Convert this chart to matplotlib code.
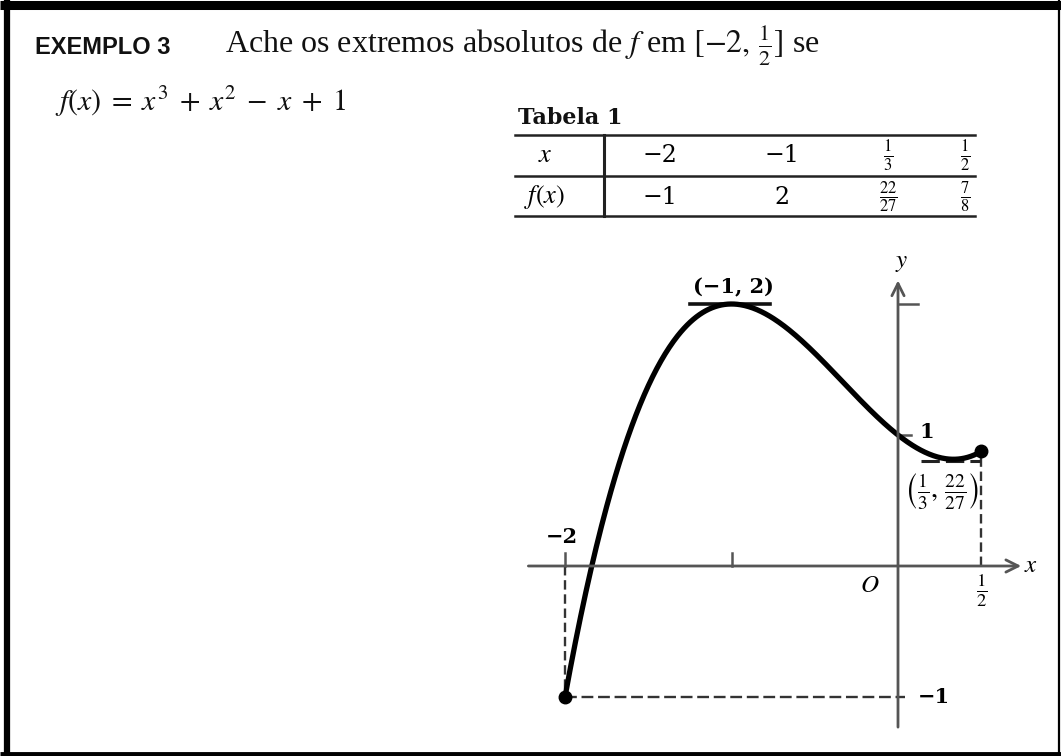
import numpy as np
import matplotlib
matplotlib.use("Agg")
import matplotlib.pyplot as plt

plt.rcParams["mathtext.fontset"] = "stix"
plt.rcParams["font.family"] = ["Liberation Serif", "DejaVu Serif"]

# f(x) = x^3 + x^2 - x + 1 on [-2, 1/2]
coeffs = [1, 1, -1, 1]
interval = [-2.0, 0.5]

# Tabela 1
table_x = [-2, -1, 1 / 3, 1 / 2]
table_fx = [-1, 2, 22 / 27, 7 / 8]
table_x_labels = ["−2", "−1", r"$\frac{1}{3}$", r"$\frac{1}{2}$"]
table_fx_labels = ["−1", "2", r"$\frac{22}{27}$", r"$\frac{7}{8}$"]

W, H = 1061, 756
fig = plt.figure(figsize=(W / 100, H / 100), dpi=100)
fig.patch.set_facecolor("white")

# page layer in pixel units for text and the table
page = fig.add_axes([0, 0, 1, 1])
page.set_xlim(0, W)
page.set_ylim(H, 0)
page.axis("off")

# frame
page.plot([0, W], [4.5, 4.5], color="black", lw=6.5, solid_capstyle="butt")
page.plot([7, 7], [0, H], color="black", lw=4.5, solid_capstyle="butt")
page.plot([0, W], [754, 754], color="black", lw=3.5, solid_capstyle="butt")
page.plot([1059, 1059], [0, H], color="black", lw=1.6, solid_capstyle="butt")

# heading
page.text(35, 48, "EXEMPLO 3", fontsize=17, fontweight="bold",
          family=["Liberation Sans Narrow", "Liberation Sans", "DejaVu Sans"],
          ha="left", va="center", color="#111111")
page.text(225, 45, r"Ache os extremos absolutos de $f$ em $[-2,\,\frac{1}{2}]$ se",
          fontsize=23, ha="left", va="center", color="#111111")
page.text(55, 102, r"$f(x)\;=\;x^3\;+\;x^2\;-\;x\;+\;1$", fontsize=21.5,
          ha="left", va="center", color="#111111")

# table
page.text(518, 118, "Tabela 1", fontsize=16, fontweight="bold",
          family=["DejaVu Serif"], ha="left", va="center", color="#111111")
for yy in (135, 176, 216):
    page.plot([515, 975], [yy, yy], color="#222222", lw=1.8)
page.plot([604, 604], [135, 216], color="#222222", lw=2.2)
page.text(545, 156, r"$x$", fontsize=19, ha="center", va="center")
page.text(545, 197, r"$f(x)$", fontsize=19, ha="center", va="center")
col_x = [660, 782, 888, 965]
for cx, lx, lf in zip(col_x, table_x_labels, table_fx_labels):
    page.text(cx, 156, lx, fontsize=17, ha="center", va="center",
              family=["DejaVu Serif"])
    page.text(cx, 197, lf, fontsize=17, ha="center", va="center",
              family=["DejaVu Serif"])

# graph axes: data coordinates mapped onto the page
x0p, sx = 898.0, 166.5
y0p, sy = 566.0, 131.0
xlim = (-2.3, 0.9)
ylim = (-1.45, 2.6)
left = x0p + xlim[0] * sx
right = x0p + xlim[1] * sx
top = y0p - ylim[1] * sy
bottom = y0p - ylim[0] * sy
ax = fig.add_axes([left / W, (H - bottom) / H, (right - left) / W, (bottom - top) / H])
ax.set_xlim(*xlim)
ax.set_ylim(*ylim)
ax.axis("off")
ax.patch.set_alpha(0)

axis_col = "#555555"
# coordinate axes with open arrowheads
ax.annotate("", xy=(0.74, 0), xytext=(-2.22, 0),
            arrowprops=dict(arrowstyle="->", color=axis_col, lw=2.0,
                            mutation_scale=22, shrinkA=0, shrinkB=0))
ax.annotate("", xy=(0, 2.18), xytext=(0, -1.23),
            arrowprops=dict(arrowstyle="->", color=axis_col, lw=2.0,
                            mutation_scale=22, shrinkA=0, shrinkB=0))
ax.text(0.8, 0.0, r"$x$", fontsize=18, ha="center", va="center")
ax.text(0.02, 2.31, r"$y$", fontsize=18, ha="center", va="center")
ax.text(-0.17, -0.15, r"$O$", fontsize=18, ha="center", va="center")

# ticks
ax.plot([-1, -1], [0, 0.1], color=axis_col, lw=1.8)
ax.plot([-2, -2], [0, 0.1], color=axis_col, lw=1.8)
ax.plot([0, 0.12], [2, 2], color=axis_col, lw=1.8)
ax.plot([0, 0.08], [1, 1], color=axis_col, lw=1.8)
ax.text(0.17, 1.02, "1", fontsize=15, fontweight="bold", ha="center",
        va="center", family=["DejaVu Serif"])
ax.text(-2.02, 0.22, "−2", fontsize=15, fontweight="bold", ha="center",
        va="center", family=["DejaVu Serif"])
ax.text(0.5, -0.19, r"$\frac{1}{2}$", fontsize=19, ha="center", va="center")

# dashed guides
ax.plot([-2, -2], [0, table_fx[0]], color="#333333", lw=1.7, ls=(0, (4, 2)))
ax.plot([-2, 0.04], [table_fx[0], table_fx[0]], color="#333333", lw=1.7, ls=(0, (5, 2)))
ax.text(0.12, -1.0, "−1", fontsize=15, fontweight="bold", ha="left",
        va="center", family=["DejaVu Serif"])
ax.plot([0.5, 0.5], [0, table_fx[3]], color="#333333", lw=1.7, ls=(0, (4, 2)))

# horizontal tangents at the critical points
ax.plot([-1.25, -0.77], [table_fx[1], table_fx[1]], color="#111111", lw=2.6)
ax.text(-0.99, 2.13, "(−1, 2)", fontsize=15, fontweight="bold", ha="center",
        va="center", family=["DejaVu Serif"])
ax.plot([0.14, 0.49], [table_fx[2] - 0.01, table_fx[2] - 0.01], color="#222222",
        lw=2.2, ls=(0, (6, 2)))
ax.text(0.26, 0.57, r"$\left(\frac{1}{3},\,\frac{22}{27}\right)$", fontsize=20,
        ha="center", va="center")

# the curve and its endpoints
xs = np.linspace(interval[0], interval[1], 400)
ax.plot(xs, np.polyval(coeffs, xs), color="black", lw=3.8, solid_capstyle="round")
ax.plot([interval[0], interval[1]], np.polyval(coeffs, interval), "o",
        color="black", ms=9)

fig.savefig("out.png", dpi=100, facecolor="white")
